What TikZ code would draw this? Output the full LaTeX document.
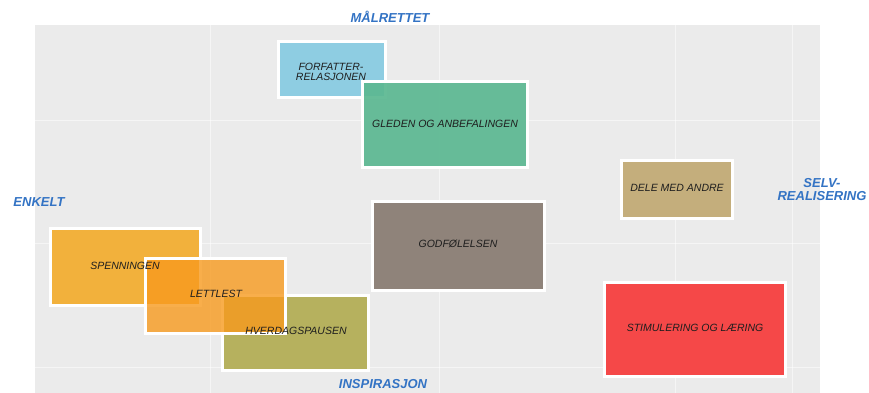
\documentclass[tikz,border=0pt]{standalone}
\usepackage{fontspec}
\setmainfont{Liberation Sans}
\definecolor{bgray}{HTML}{EBEBEB}
\definecolor{axblue}{HTML}{3373C4}
\definecolor{cblue}{HTML}{8ECDE2}
\definecolor{cgreen}{HTML}{5CB892}
\definecolor{ctan}{HTML}{C4AE7C}
\definecolor{ctaupe}{HTML}{8F837A}
\definecolor{cyellow}{HTML}{F2B13C}
\definecolor{corange}{HTML}{F79A1E}
\definecolor{colive}{HTML}{B6B15E}
\definecolor{cred}{HTML}{F54848}
\definecolor{txt}{HTML}{1E1E1E}
\tikzset{
  x=1pt, y=-1pt,
  box/.style={draw=white, line width=3pt, minimum width=#1, inner sep=0pt},
  bh/.style={minimum height=#1},
  lbl/.style={font=\fontsize{10.5}{9.5}\selectfont\itshape, text=txt, align=center, inner sep=0pt},
  axis/.style={font=\fontsize{13}{13}\selectfont\bfseries\itshape, text=axblue, align=center, inner sep=0pt},
  gridl/.style={draw=white, line width=1pt, opacity=0.55}
}
\begin{document}
\begin{tikzpicture}
\useasboundingbox (0,0) rectangle (869,393);
\fill[white] (0,0) rectangle (869,393);
\fill[bgray] (35,25) rectangle (820,393);
% grid
\coordinate (g1t) at (210,25); \coordinate (g1b) at (210,393);
\coordinate (g2t) at (439,25); \coordinate (g2b) at (439,393);
\coordinate (g3t) at (675,25); \coordinate (g3b) at (675,393);
\coordinate (g4t) at (792,25); \coordinate (g4b) at (792,393);
\coordinate (h1l) at (35,120); \coordinate (h1r) at (820,120);
\coordinate (h2l) at (35,243); \coordinate (h2r) at (820,243);
\coordinate (h3l) at (35,367); \coordinate (h3r) at (820,367);
\draw[gridl] (g1t) -- (g1b) (g2t) -- (g2b) (g3t) -- (g3b) (g4t) -- (g4b);
\draw[gridl] (h1l) -- (h1r) (h2l) -- (h2r) (h3l) -- (h3r);
% boxes
\node[box=107pt, bh=56pt, fill=cblue] (forf) at (331.5,70) {};
\node[box=165pt, bh=85pt, fill=cgreen, fill opacity=0.93] (gled) at (444.5,124.5) {};
\node[box=111pt, bh=58pt, fill=ctan] (dele) at (676.5,189) {};
\node[box=172pt, bh=89pt, fill=ctaupe] (godf) at (458,245.5) {};
\node[box=150pt, bh=77pt, fill=cyellow] (spen) at (125,266.5) {};
\node[box=146pt, bh=75pt, fill=colive] (hver) at (295,332.5) {};
\node[box=140pt, bh=75pt, fill=corange, fill opacity=0.8] (lett) at (215,295.5) {};
\node[box=181pt, bh=94pt, fill=cred] (stim) at (694.5,329) {};
% labels
\node[lbl] (tforf) at (331,72) {FORFATTER-\\RELASJONEN};
\node[lbl] (tgled) at (445,124) {GLEDEN OG ANBEFALINGEN};
\node[lbl] (tdele) at (677,188) {DELE MED ANDRE};
\node[lbl] (tgodf) at (458,244) {GODFØLELSEN};
\node[lbl] (tspen) at (125,266) {SPENNINGEN};
\node[lbl] (tlett) at (216,294) {LETTLEST};
\node[lbl] (thver) at (296,331) {HVERDAGSPAUSEN};
\node[lbl] (tstim) at (695,328) {STIMULERING OG LÆRING};
% axis labels
\node[axis] (mal) at (390,17) {MÅLRETTET};
\node[axis] (enk) at (39,202) {ENKELT};
\node[axis] (selv) at (822,190) {SELV-\\REALISERING};
\node[axis] (insp) at (383,384) {INSPIRASJON};
\end{tikzpicture}
\end{document}
